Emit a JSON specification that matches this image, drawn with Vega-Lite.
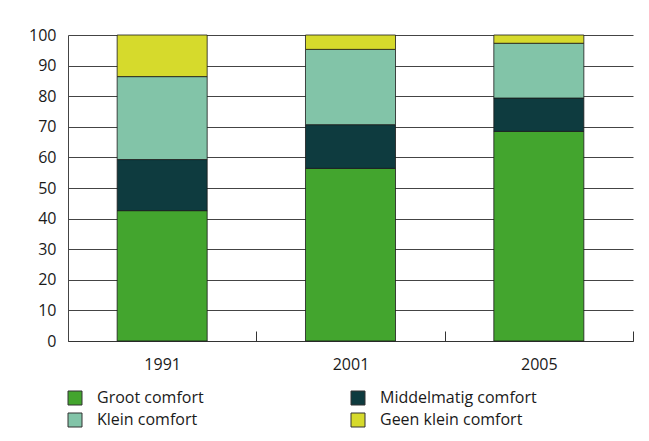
{
  "$schema": "https://vega.github.io/schema/vega-lite/v6.json",
  "width": 565,
  "height": 306,
  "autosize": {"type": "none"},
  "padding": {"left": 68, "top": 35, "right": 16, "bottom": 100},
  "background": "#ffffff",
  "config": {
    "font": "Open Sans",
    "view": {"stroke": null},
    "axis": {"labelFont": "Open Sans", "labelFontSize": 16, "labelColor": "#1a1a1a"}
  },
  "data": {
    "values": [
      {"jaar": "1991", "cat": "Groot comfort", "k": 1, "pct": 42.6},
      {"jaar": "1991", "cat": "Middelmatig comfort", "k": 2, "pct": 16.7},
      {"jaar": "1991", "cat": "Klein comfort", "k": 3, "pct": 27.1},
      {"jaar": "1991", "cat": "Geen klein comfort", "k": 4, "pct": 13.6},
      {"jaar": "2001", "cat": "Groot comfort", "k": 1, "pct": 56.4},
      {"jaar": "2001", "cat": "Middelmatig comfort", "k": 2, "pct": 14.3},
      {"jaar": "2001", "cat": "Klein comfort", "k": 3, "pct": 24.6},
      {"jaar": "2001", "cat": "Geen klein comfort", "k": 4, "pct": 4.7},
      {"jaar": "2005", "cat": "Groot comfort", "k": 1, "pct": 68.5},
      {"jaar": "2005", "cat": "Middelmatig comfort", "k": 2, "pct": 10.9},
      {"jaar": "2005", "cat": "Klein comfort", "k": 3, "pct": 17.9},
      {"jaar": "2005", "cat": "Geen klein comfort", "k": 4, "pct": 2.7}
    ]
  },
  "mark": {"type": "bar", "stroke": "#1a1a1a", "strokeWidth": 0.8, "width": {"band": 0.478}},
  "encoding": {
    "x": {
      "field": "jaar",
      "type": "nominal",
      "title": null,
      "scale": {"paddingInner": 0, "paddingOuter": 0},
      "axis": {
        "labelAngle": 0,
        "tickBand": "extent",
        "tickSize": -10,
        "tickColor": "#333333",
        "tickWidth": 1,
        "domainColor": "#333333",
        "domainWidth": 1.2,
        "labelPadding": 25,
        "grid": false
      }
    },
    "y": {
      "field": "pct",
      "type": "quantitative",
      "stack": "zero",
      "title": null,
      "scale": {"domain": [0, 100], "nice": false},
      "axis": {
        "values": [0, 10, 20, 30, 40, 50, 60, 70, 80, 90, 100],
        "ticks": false,
        "labelPadding": 12,
        "grid": true,
        "gridColor": "#444444",
        "gridWidth": 1,
        "domainColor": "#444444",
        "domainWidth": 1
      }
    },
    "color": {
      "field": "cat",
      "type": "nominal",
      "scale": {
        "domain": ["Groot comfort", "Klein comfort", "Middelmatig comfort", "Geen klein comfort"],
        "range": ["#43a52e", "#82c4a8", "#0e3b3f", "#d6da2c"]
      },
      "legend": {
        "title": null,
        "orient": "none",
        "legendX": -1,
        "legendY": 355,
        "columns": 2,
        "columnPadding": 145,
        "rowPadding": 4,
        "padding": 0,
        "symbolType": "square",
        "symbolSize": 196,
        "symbolStrokeColor": "#333333",
        "symbolStrokeWidth": 1,
        "labelFont": "Open Sans",
        "labelFontSize": 16,
        "labelLimit": 400,
        "labelColor": "#1a1a1a",
        "labelOffset": 14
      }
    },
    "order": {"field": "k", "type": "quantitative"}
  }
}
